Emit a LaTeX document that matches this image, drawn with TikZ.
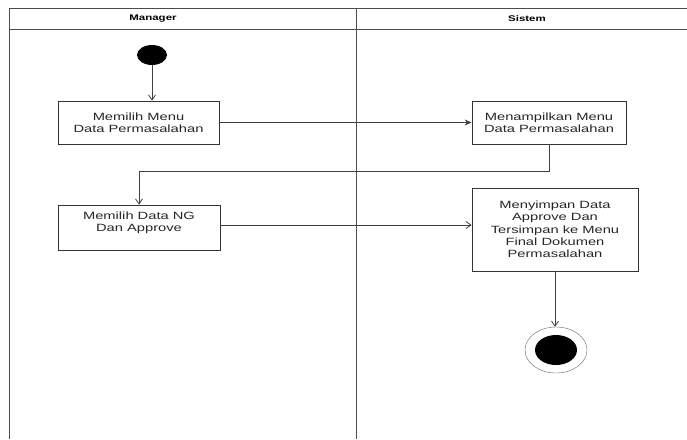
\documentclass[tikz,border=0pt]{standalone}
\usepackage{fontspec}
\setmainfont[FakeStretch=1.4]{Liberation Sans}
\usetikzlibrary{arrows.meta,shapes.geometric}

\begin{document}
\begin{tikzpicture}[x=1pt, y=-1pt, font=\fontsize{10.5}{12.3}\selectfont,
  act/.style={draw, rectangle, thick, draw=black!80, align=center, inner sep=2pt, text=black!85},
  flow/.style={-{Straight Barb[length=5pt,width=7pt]}, thick, draw=black!75}]
\useasboundingbox (0,0) rectangle (687,439);
% swimlanes
\draw[black!70, thick] (9,439) -- (9,8) -- (687,8);
\draw[black!70, thick] (9,29) -- (687,29);
\draw[black!70, thick] (356,8) -- (356,439);
\node  (lane1) at (153,18.5) {\fontsize{8.2}{9}\selectfont\bfseries Manager};
\node  (lane2) at (527,18.5) {\fontsize{8.2}{9}\selectfont\bfseries Sistem};
% activities
\node  (start)[ellipse, fill=black, minimum width=30pt, minimum height=20pt, inner sep=0pt] at (152,55) {};
\node  (1)[act, minimum width=161pt, minimum height=43pt] at (138.5,122.5) {Memilih Menu\\Data Permasalahan};
\node  (2)[act, minimum width=154pt, minimum height=43pt] at (549,122.5) {Menampilkan Menu\\Data Permasalahan};
\node  (3)[act, minimum width=162pt, minimum height=45pt] at (139,227.5) {Memilih Data NG\\Dan Approve\\ };
\node  (4)[act, minimum width=166pt, minimum height=83pt] at (555,229.5) {Menyimpan Data\\Approve Dan\\Tersimpan ke Menu\\Final Dokumen\\Permasalahan};
\node  (end)[ellipse, draw=black!60, minimum width=62pt, minimum height=46pt] at (556,350) {};
\node  (endin)[ellipse, fill=black, minimum width=42pt, minimum height=30pt, inner sep=0pt] at (end) {};
% transitions
\draw[flow] (start) -- (start |- 1.north);
\draw[-{Stealth[length=7pt,width=6pt]}, thick, draw=black!75] (1.east) -- (2.west);
\draw[flow] (2.south) -- ++(0,27) -| (3.north);
\draw[flow] (3.east |- 0,225) -- (4.west |- 0,225);
\draw[flow] (4.south) -- (4.south |- end.north);
\end{tikzpicture}
\end{document}
